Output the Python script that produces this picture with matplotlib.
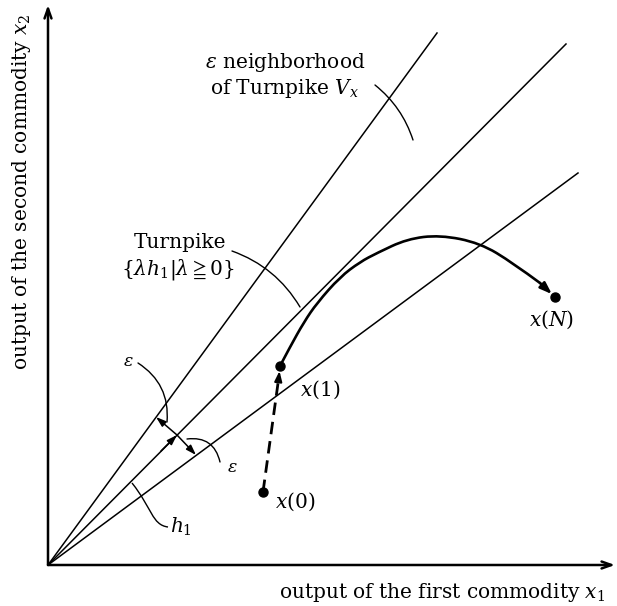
import matplotlib
matplotlib.use("Agg")
import matplotlib.pyplot as plt
from matplotlib.patches import FancyArrowPatch, PathPatch
from matplotlib.path import Path

plt.rcParams["font.family"] = ["DejaVu Serif"]
plt.rcParams["mathtext.fontset"] = "dejavuserif"

# ray end points (origin is the corner of the axes)
RAY_UPPER = (389, 532)
RAY_TURNPIKE = (518, 521)
RAY_LOWER = (530, 392)

# path of the economy x(1) ... x(N)
PATH_X = [232, 242, 256, 269, 292, 312, 329, 359, 392, 432, 465, 492]
PATH_Y = [199, 218, 243, 262, 288, 303, 312, 326, 330, 322, 302, 282]
X0 = (215, 73)
X1 = (232, 199)
XN = (507, 268)

# eps markers between the rays
EPS_MID = (129, 130)
EPS_UP = (108, 148)
EPS_LOW = (148, 110)

FS = 14.5

fig = plt.figure(figsize=(6.17, 6.06), dpi=100)
ax = fig.add_axes([0, 0, 1, 1])
ax.set_xlim(-48, 569)
ax.set_ylim(-41, 565)
ax.axis("off")

# axes with arrows
for tip in ((0, 560), (567, 0)):
    ax.annotate("", xy=tip, xytext=(0, 0),
                arrowprops=dict(arrowstyle="->,head_length=0.7,head_width=0.25",
                                lw=1.8, color="black", shrinkA=0, shrinkB=0))

# the three rays
for end in (RAY_UPPER, RAY_TURNPIKE, RAY_LOWER):
    ax.plot([0, end[0]], [0, end[1]], color="black", lw=1.1)

# h1 arrow head on turnpike
ax.annotate("", xy=EPS_MID, xytext=(EPS_MID[0] - 16, EPS_MID[1] - 16),
            arrowprops=dict(arrowstyle="-|>,head_length=0.6,head_width=0.2",
                            lw=1.1, color="black", shrinkA=0, shrinkB=0))
# eps double arrows
for end in (EPS_UP, EPS_LOW):
    ax.annotate("", xy=end, xytext=EPS_MID,
                arrowprops=dict(arrowstyle="-|>,head_length=0.6,head_width=0.2",
                                lw=1.1, color="black", shrinkA=0, shrinkB=0))

# trajectory, smoothed as a quadratic b-spline through the read points
pts = list(zip(PATH_X, PATH_Y))
verts = [pts[0]]
codes = [Path.MOVETO]
for i in range(1, len(pts) - 1):
    nxt = pts[i + 1] if i == len(pts) - 2 else (
        (pts[i][0] + pts[i + 1][0]) / 2, (pts[i][1] + pts[i + 1][1]) / 2)
    verts += [pts[i], nxt]
    codes += [Path.CURVE3, Path.CURVE3]
ax.add_patch(PathPatch(Path(verts, codes), fill=False, lw=1.9, color="black",
                       capstyle="round"))
ax.annotate("", xy=XN, xytext=(PATH_X[-1], PATH_Y[-1]),
            arrowprops=dict(arrowstyle="-|>,head_length=0.7,head_width=0.25",
                            lw=1.9, color="black", shrinkA=0, shrinkB=3))

# dashed step x(0) -> x(1)
ax.plot([X0[0], X1[0] - 1], [X0[1], X1[1] - 10], color="black", lw=2.0,
        ls=(0, (4.5, 2.5)))
ax.annotate("", xy=(X1[0] - 0.5, X1[1] - 5), xytext=(X1[0] - 1.5, X1[1] - 14),
            arrowprops=dict(arrowstyle="-|>,head_length=0.6,head_width=0.22",
                            lw=1.5, color="black", shrinkA=0, shrinkB=0))
for p in (X0, X1, XN):
    ax.plot(*p, "o", color="black", ms=6.5)

# leader arcs
def leader(a, b, rad):
    ax.add_patch(FancyArrowPatch(a, b, arrowstyle="-", lw=1.0, color="black",
                                 connectionstyle=f"arc3,rad={rad}",
                                 shrinkA=0, shrinkB=0))

leader((327, 480), (365, 425), -0.15)
leader((184, 314), (252, 258), -0.18)
leader((90, 202), (119, 143), -0.3)
leader((172, 103), (139, 126), 0.45)

h1_path = Path([(84, 82), (104, 57), (104, 40), (120, 38)],
               [Path.MOVETO, Path.CURVE4, Path.CURVE4, Path.CURVE4])
ax.add_patch(PathPatch(h1_path, fill=False, lw=1.0, color="black"))

# texts
ax.text(237, 502, r"$\varepsilon$ neighborhood", fontsize=FS, ha="center", va="center")
ax.text(237, 477, r"of Turnpike $V_x$", fontsize=FS, ha="center", va="center")
ax.text(132, 322, "Turnpike", fontsize=FS, ha="center", va="center")
ax.text(130, 295, r"$\{\lambda h_1|\lambda\geqq 0\}$", fontsize=FS, ha="center", va="center")
ax.text(80, 203, r"$\varepsilon$", fontsize=FS - 2, ha="center", va="center")
ax.text(184, 98, r"$\varepsilon$", fontsize=FS - 2, ha="center", va="center")
ax.text(122, 38, r"$h_1$", fontsize=FS, ha="left", va="center")
ax.text(227, 63, r"$x(0)$", fontsize=FS, ha="left", va="center")
ax.text(252, 175, r"$x(1)$", fontsize=FS, ha="left", va="center")
ax.text(504, 245, r"$x(N)$", fontsize=FS, ha="center", va="center")
ax.text(394, -28, r"output of the first commodity $x_1$", fontsize=FS,
        ha="center", va="center")
ax.text(-26, 373, r"output of the second commodity $x_2$", fontsize=FS,
        ha="center", va="center", rotation=90)

fig.savefig("out.png", dpi=100)
